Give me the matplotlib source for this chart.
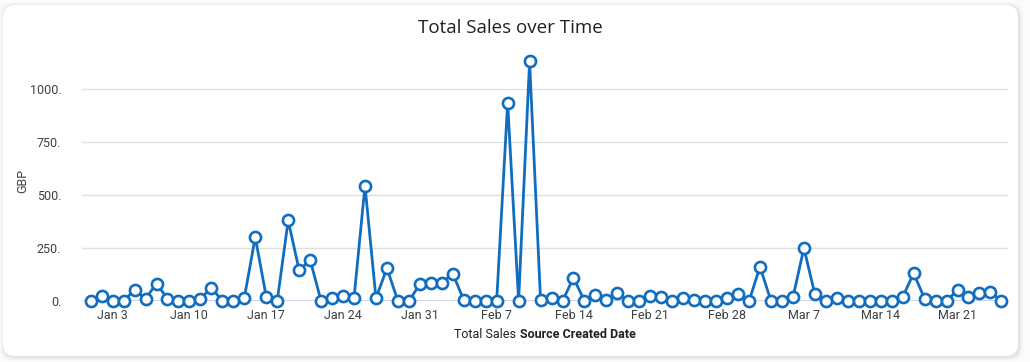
import numpy as np
import pandas as pd
import matplotlib
matplotlib.use("Agg")
import matplotlib.pyplot as plt
from matplotlib.patches import FancyBboxPatch
from matplotlib.offsetbox import TextArea, HPacker, AnchoredOffsetbox

# ---- data ----
start_date = "2021-01-01"
jan_sales = [0, 22, 0, 0, 52, 11, 82, 11, 0, 2, 11, 63, 0, 0, 14, 302, 20, 0, 381, 145,
             194, 0, 13, 22, 14, 545, 13, 155, 0, 0, 79]
feb_sales = [85, 87, 129, 5, 0, 0, 0, 936, 0, 1133, 3, 14, 0, 110, 0, 30, 5, 36, 0, 0,
             22, 20, 0, 13, 5, 0, 0, 14]
mar_sales = [32, 0, 162, 0, 0, 17, 250, 32, 0, 16, 0, 0, 0, 0, 0, 19, 131, 11, 0, 0,
             52, 17, 39, 44, 0]
sales = jan_sales + feb_sales + mar_sales
dates = pd.date_range(start_date, periods=len(sales), freq="D")
y_ticks = [0, 250, 500, 750, 1000]
y_tick_labels = ["0.", "250.", "500.", "750.", "1000."]
x_tick_dates = pd.date_range("2021-01-03", "2021-03-21", freq="7D")
x_tick_labels = [f"{d.strftime('%b')} {d.day}" for d in x_tick_dates]

title = "Total Sales over Time"
y_label = "GBP"

# ---- style ----
plt.rcParams["font.family"] = ["Roboto", "DejaVu Sans"]
line_color = "#106dbf"
text_color = "#3c4043"

W, H = 1030, 362
fig = plt.figure(figsize=(W / 100, H / 100), dpi=100)
fig.patch.set_facecolor("#fbfbfb")

# card with soft shadow
for pad, alpha in [(4, 0.012), (3, 0.018), (2, 0.025), (1, 0.035)]:
    sh = FancyBboxPatch(((3 - pad + 1) / W, 1 - (356 + pad + 1) / H),
                        (1015 + 2 * pad) / W, (351 + 2 * pad) / H,
                        boxstyle="round,pad=0,rounding_size=0.012",
                        transform=fig.transFigure, facecolor="black", alpha=alpha,
                        edgecolor="none", zorder=0, mutation_aspect=W / H)
    fig.patches.append(sh)
card = FancyBboxPatch((3 / W, 1 - 356 / H), 1015 / W, 351 / H,
                      boxstyle="round,pad=0,rounding_size=0.012",
                      transform=fig.transFigure, facecolor="white",
                      edgecolor="none", zorder=1, mutation_aspect=W / H)
fig.patches.append(card)

ax_left, ax_right = 82 / W, 1008 / W
ax_bottom, ax_top = 1 - 301 / H, 1 - 55 / H
ax = fig.add_axes([ax_left, ax_bottom, ax_right - ax_left, ax_top - ax_bottom])
ax.set_zorder(5)
ax.set_facecolor("none")

ax.plot(dates, sales, color=line_color, lw=2.0, marker="o", ms=8.0,
        mfc="white", mec=line_color, mew=1.9, zorder=3, clip_on=False)

x0 = dates[0] - pd.Timedelta(days=0.79)
x1 = dates[0] + pd.Timedelta(days=83.6)
ax.set_xlim(x0, x1)
ax.set_ylim(0, 1163)

ax.set_yticks(y_ticks)
ax.set_yticklabels(y_tick_labels)
ax.set_xticks(x_tick_dates)
ax.set_xticklabels(x_tick_labels)
ax.tick_params(axis="both", length=0, labelsize=9, colors=text_color)
ax.tick_params(axis="y", pad=15)
ax.tick_params(axis="x", pad=6)
ax.grid(axis="y", color="#e0e0e0", lw=1)
ax.axhline(0, color="#c9cde0", lw=1.2, zorder=2)
for s in ax.spines.values():
    s.set_visible(False)

ax.set_ylabel(y_label, fontsize=9, color=text_color)
ax.yaxis.set_label_coords((23 - 82) / (1008 - 82), 0.49)
ax.yaxis.label.set_va("center")

fig.text(510.5 / W, 1 - 28 / H, title, ha="center", va="center",
         fontsize=13.5, color="#202124", family=["Open Sans", "DejaVu Sans"])

# x label with mixed weight
ta1 = TextArea("Total Sales ", textprops=dict(fontsize=9, color="#202124"))
ta2 = TextArea("Source Created Date", textprops=dict(fontsize=9, color="#202124", fontweight="bold"))
pack = HPacker(children=[ta1, ta2], align="baseline", pad=0, sep=0)
anch = AnchoredOffsetbox(loc="center", child=pack, frameon=False,
                         bbox_to_anchor=(545 / W, 1 - 334 / H),
                         bbox_transform=fig.transFigure, pad=0, borderpad=0)
anch.set_zorder(6)
fig.add_artist(anch)

fig.savefig("out.png", dpi=100, facecolor=fig.get_facecolor())
